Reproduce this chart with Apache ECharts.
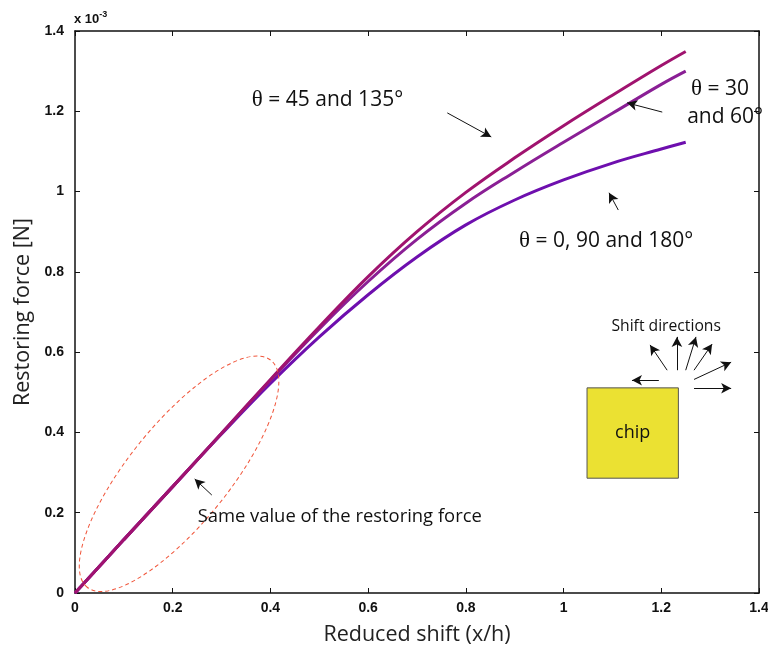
<!DOCTYPE html>
<html><head><meta charset="utf-8">
<script src="https://cdn.jsdelivr.net/npm/echarts@6/dist/echarts.min.js"></script>
<style>html,body{margin:0;padding:0;background:#fff}#c{width:768px;height:648px}</style>
</head><body><div id="c"></div><script>
// Reduced shift (x/h)
const xs = [0, 0.1, 0.2, 0.3, 0.4, 0.5, 0.6, 0.7, 0.8, 0.9, 1.0, 1.1, 1.2, 1.25];
// Restoring force (x 10^-3 N)
const theta45 = [0, 0.133, 0.265, 0.398, 0.532, 0.663, 0.788, 0.900, 0.998, 1.084, 1.164, 1.240, 1.314, 1.349];
const theta30 = [0, 0.133, 0.265, 0.398, 0.530, 0.658, 0.776, 0.881, 0.971, 1.049, 1.123, 1.195, 1.267, 1.300];
const theta0  = [0, 0.133, 0.265, 0.396, 0.522, 0.638, 0.743, 0.837, 0.917, 0.979, 1.029, 1.071, 1.106, 1.123];
const xTicks = [0, 0.2, 0.4, 0.6, 0.8, 1, 1.2, 1.4];
const yTicks = [0, 0.2, 0.4, 0.6, 0.8, 1, 1.2, 1.4];

// annotation arrows in data coordinates [x1,y1,x2,y2]
const arrows = [
  [0.762, 1.196, 0.852, 1.136],
  [1.202, 1.198, 1.130, 1.221],
  [1.112, 0.954, 1.093, 0.997],
  [0.280, 0.244, 0.245, 0.284]
];
const shiftArrows = [
  [1.195, 0.530, 1.140, 0.530],
  [1.212, 0.555, 1.177, 0.618],
  [1.232, 0.555, 1.232, 0.638],
  [1.250, 0.555, 1.271, 0.638],
  [1.267, 0.555, 1.304, 0.620],
  [1.267, 0.532, 1.343, 0.575],
  [1.267, 0.510, 1.343, 0.510]
];
const chipBox = [1.048, 0.511, 1.235, 0.286];
const labels = [
  {t: '{th|θ} = 45 and 135°', x: 0.362, y: 1.228, size: 21},
  {t: '{th|θ} = 30', x: 1.261, y: 1.256, size: 21},
  {t: 'and 60°', x: 1.253, y: 1.186, size: 21},
  {t: '{th|θ} = 0, 90 and 180°', x: 0.909, y: 0.877, size: 21},
  {t: 'Same value of the restoring force', x: 0.251, y: 0.189, size: 18.4},
  {t: 'Shift directions', x: 1.210, y: 0.665, size: 15.7, center: true}
];
const ellipseC = [0.213, 0.297];

const mk = (arr) => arr.map(a => [{coord: [a[0], a[1]]}, {coord: [a[2], a[3]]}]);
const pairs = (ys) => xs.map((x, i) => [x, ys[i]]);

const chart = echarts.init(document.getElementById('c'));
const tickLbl = {fontFamily: 'Liberation Sans', fontWeight: 'bold', fontSize: 14, color: '#111'};
const baseX = {type: 'value', min: 0, max: 1.4, interval: 0.2,
  axisLine: {show: true, onZero: false, lineStyle: {color: '#111', width: 1.5}},
  axisTick: {show: true, inside: true, length: 5, lineStyle: {color: '#111'}},
  splitLine: {show: false}};
const baseY = {type: 'value', min: 0, max: 1.4, interval: 0.2,
  axisLine: {show: true, onZero: false, lineStyle: {color: '#111', width: 1.5}},
  axisTick: {show: true, inside: true, length: 5, lineStyle: {color: '#111'}},
  splitLine: {show: false}};

const lineS = (name, ys, color, extra) => Object.assign({
  name, type: 'line', data: pairs(ys), smooth: 0.4, showSymbol: false,
  lineStyle: {color, width: 3}, itemStyle: {color}, silent: true, animation: false
}, extra || {});

chart.setOption({
  animation: false,
  grid: {left: 75, right: 9, top: 31, bottom: 55, containLabel: false, outerBoundsMode: 'none'},
  xAxis: [
    Object.assign({}, baseX, {position: 'bottom', name: 'Reduced shift (x/h)', nameLocation: 'middle', nameGap: 31,
      nameTextStyle: {fontFamily: 'Open Sans', fontSize: 21.5, color: '#222'},
      axisLabel: Object.assign({margin: 8, formatter: v => xTicks.indexOf(+v.toFixed(1)) >= 0 ? String(+v.toFixed(1)) : ''}, tickLbl)}),
    Object.assign({}, baseX, {position: 'top', axisLabel: {show: false}})
  ],
  yAxis: [
    Object.assign({}, baseY, {position: 'left', name: 'Restoring force [N]', nameLocation: 'middle', nameGap: 40,
      nameTextStyle: {fontFamily: 'Open Sans', fontSize: 21.5, color: '#222'},
      axisLabel: Object.assign({margin: 11, formatter: v => yTicks.indexOf(+v.toFixed(1)) >= 0 ? String(+v.toFixed(1)) : ''}, tickLbl)}),
    Object.assign({}, baseY, {position: 'right', axisLabel: {show: false}})
  ],
  series: [
    lineS('θ = 0, 90 and 180°', theta0, '#6e0fae', {
      markLine: {silent: true, symbol: ['none', 'arrow'], symbolSize: [8, 10], label: {show: false},
        lineStyle: {color: '#111', width: 1, type: 'solid'}, data: mk(arrows).concat(mk(shiftArrows))},
      markArea: {silent: true, itemStyle: {color: '#ebe132', borderColor: '#555', borderWidth: 1},
        label: {show: true, position: 'inside', formatter: 'chip', fontFamily: 'Open Sans', fontSize: 18, color: '#111'},
        data: [[{coord: [chipBox[0], chipBox[1]]}, {coord: [chipBox[2], chipBox[3]]}]]}
    }),
    lineS('θ = 30 and 60°', theta30, '#8a1f95'),
    lineS('θ = 45 and 135°', theta45, '#a0136f')
  ]
});

function place() {
  const g = [];
  labels.forEach(l => {
    const p = chart.convertToPixel({gridIndex: 0}, [l.x, l.y]);
    g.push({type: 'text', x: p[0], y: p[1], silent: true, z: 10,
      style: {text: l.t, fontFamily: 'Open Sans', fontSize: l.size, fill: '#111',
        align: l.center ? 'center' : 'left', verticalAlign: 'middle',
        rich: {th: {fontFamily: 'Liberation Serif', fontSize: l.size + 2, fill: '#111'}}}});
  });
  const c = chart.convertToPixel({gridIndex: 0}, ellipseC);
  g.push({type: 'ellipse', x: c[0], y: c[1], rotation: 51 * Math.PI / 180, silent: true, z: 5,
    shape: {cx: 0, cy: 0, rx: 146, ry: 50},
    style: {fill: 'none', stroke: '#f0553a', lineWidth: 1, lineDash: [4, 3]}});
  g.push({type: 'text', x: 74, y: 19, silent: true,
    style: {text: 'x 10{s|-3}', fontFamily: 'Liberation Sans', fontWeight: 'bold', fontSize: 13, fill: '#111', verticalAlign: 'middle',
      rich: {s: {fontFamily: 'Liberation Sans', fontWeight: 'bold', fontSize: 9, verticalAlign: 'bottom', padding: [0, 0, 8, 0], fill: '#111'}}}});
  chart.setOption({graphic: g});
}
place();
</script></body></html>
